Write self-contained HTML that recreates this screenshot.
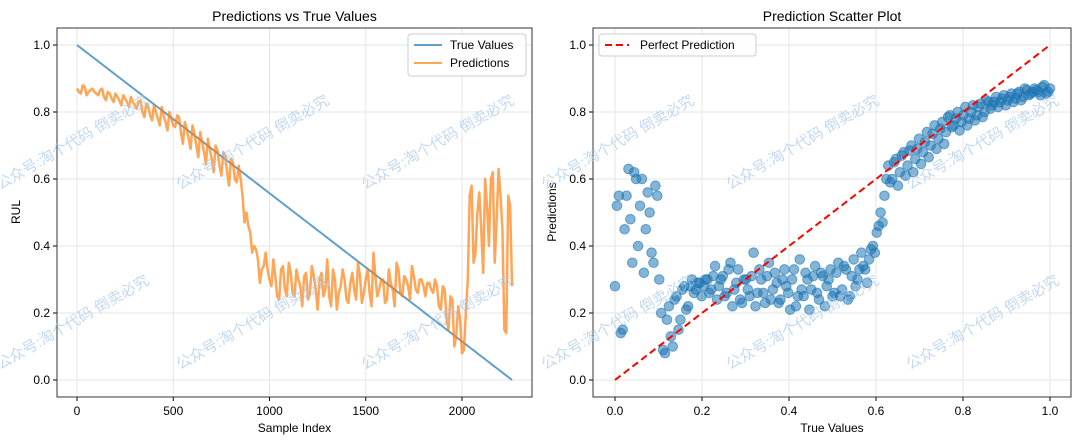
<!DOCTYPE html>
<html><head><meta charset="utf-8"><style>
body{margin:0;background:#fff;}
svg{display:block;font-family:"Liberation Sans","DejaVu Sans",sans-serif;}
</style></head><body>
<svg id="c" width="1080" height="444"></svg>
<script>
// readings at sample index 0,20,40,...
const predictionsEven=[.87,.855,.875,.86,.87,.855,
.865,.845,.86,.84,.855,.835,.85,.83,.845,.82,
.83,.80,.825,.79,.82,.78,.815,.77,.80,.76,
.79,.74,.77,.72,.76,.70,.74,.68,.72,.66,
.70,.64,.68,.62,.66,.60,.64,
.55,.50,.44,.40,.36,.33,.38,.30,
.36,.25,.33,.27,.35,
.26,.33,.28,.31,.24,.34,.27,.30,.25,.36,.22,.30,.26,.33,.24,.29,.27,.35,.23,.30,
.26,.38,.25,.30,.23,.33,.27,.35,.26,.31,.28,.34,.27,.30,.28,
.29,.27,.30,.22,.28,.18,.25,.10,.22,.08,
.20,.55,.35,.50,.45,.60,.40,.62,.48,.55,
.15,.55,.28];
// readings at sample index 10,30,50,...
const predictionsOdd=[.86,.88,.85,.865,.86,
.85,.87,.835,.855,.83,.845,.82,.84,.815,.83,
.81,.835,.785,.815,.775,.80,.76,.79,.745,.78,
.755,.785,.705,.75,.69,.735,.665,.71,.645,.69,
.62,.685,.61,.67,.58,.65,.59,
.60,.47,.46,.38,.39,.29,.34,.33,
.28,.31,.24,.34,.25,
.32,.25,.30,.22,.32,.26,.31,.21,.32,.27,.25,.33,.21,.28,.30,.23,.32,.24,.31,.26,
.33,.22,.31,.27,.30,.24,.29,.22,.33,.25,.30,.24,.31,.26,.30,
.25,.29,.26,.28,.21,.27,.15,.24,.13,.18,
.09,.30,.58,.38,.56,.32,.52,.60,.35,.63,
.45,.14,.52];
const sampleStep=10;
const maxIndex=2260;
const leftXTicks=[0,500,1000,1500,2000];
const yTicks=[0.0,0.2,0.4,0.6,0.8,1.0];
const rightXTicks=[0.0,0.2,0.4,0.6,0.8,1.0];

const predictions=[];
predictionsEven.forEach((v,i)=>{predictions.push(v);if(i<predictionsOdd.length)predictions.push(predictionsOdd[i]);});
const idx=predictions.map((_,i)=>i*sampleStep);
const truth=idx.map(i=>1-i/maxIndex);

const NS="http://www.w3.org/2000/svg";
const svg=document.getElementById('c');
function el(t,a,p){const e=document.createElementNS(NS,t);for(const k in a)e.setAttribute(k,a[k]);(p||svg).appendChild(e);return e;}
const yS=v=>380-335*v;
const lx=v=>77+v*0.1925;
const rx=v=>615+v*435;

function axes(x0,x1,xt,xs,xfmt,title,xl,yl,pre){
  const g=el('g',{});
  
  
  xt.forEach(t=>{el('line',{x1:xs(t),x2:xs(t),y1:28,y2:397,stroke:'#e6e6e6','stroke-width':1},g);
    el('line',{x1:xs(t),x2:xs(t),y1:397,y2:401,stroke:'#000'},g);
    const tx=el('text',{x:xs(t),y:415,'font-size':12,'text-anchor':'middle'},g);tx.textContent=xfmt(t);
    });
  yTicks.forEach(t=>{el('line',{x1:x0,x2:x1,y1:yS(t),y2:yS(t),stroke:'#e6e6e6'},g);
    el('line',{x1:x0-4,x2:x0,y1:yS(t),y2:yS(t),stroke:'#000'},g);
    const tx=el('text',{x:x0-7,y:yS(t)+4,'font-size':12,'text-anchor':'end'},g);tx.textContent=t.toFixed(1);
    });
  const tt=el('text',{x:(x0+x1)/2,y:21,'font-size':14,'text-anchor':'middle'},g);tt.textContent=title;
  
  const xa=el('text',{x:(x0+x1)/2,y:432,'font-size':12,'text-anchor':'middle'},g);xa.textContent=xl;
  
  const ya=el('text',{x:0,y:0,'font-size':12,'text-anchor':'middle',transform:`translate(${x0-37},212) rotate(-90)`},g);ya.textContent=yl;
  
  return g;
}
axes(57,532,leftXTicks,lx,v=>String(v),'Predictions vs True Values','Sample Index','RUL','left');
axes(593,1071,rightXTicks,rx,v=>v.toFixed(1),'Prediction Scatter Plot','True Values','Predictions','right');

const tl=el('polyline',{points:idx.map((i,k)=>lx(i)+','+yS(truth[k])).join(' '),fill:'none',stroke:'#1f77b4','stroke-opacity':0.7,'stroke-width':2});

const pl=el('polyline',{points:idx.map((i,k)=>lx(i)+','+yS(predictions[k])).join(' '),fill:'none',stroke:'#ff7f0e','stroke-opacity':0.7,'stroke-width':2.5,'stroke-linejoin':'round'});


predictions.forEach((p,k)=>{const c=el('circle',{cx:rx(truth[k]),cy:yS(p),r:4.8,fill:'#1f77b4','fill-opacity':0.55,stroke:'#1f77b4','stroke-opacity':0.6});
  });
const dl=el('line',{x1:rx(0),y1:yS(0),x2:rx(1),y2:yS(1),stroke:'#ff0000','stroke-width':2,'stroke-dasharray':'7,4'});


[[57,532],[593,1071]].forEach(([a,b])=>{const f=el('rect',{x:a,y:28,width:b-a,height:369,fill:'none',stroke:'#333','stroke-width':1});
  });

const lg=el('g',{});
el('rect',{x:408,y:34,width:118,height:42,rx:3,fill:'#fff','fill-opacity':0.85,stroke:'#ccc'},lg);
el('line',{x1:414,x2:442,y1:45,y2:45,stroke:'#1f77b4','stroke-opacity':0.7,'stroke-width':2},lg);
let t=el('text',{x:450,y:49,'font-size':12},lg);t.textContent='True Values';
el('line',{x1:414,x2:442,y1:63,y2:63,stroke:'#ff7f0e','stroke-opacity':0.7,'stroke-width':2},lg);
t=el('text',{x:450,y:67,'font-size':12},lg);t.textContent='Predictions';
const rg=el('g',{});
el('rect',{x:599,y:34,width:157,height:22,rx:3,fill:'#fff','fill-opacity':0.85,stroke:'#ccc'},rg);
el('line',{x1:605,x2:629,y1:45,y2:45,stroke:'#ff0000','stroke-width':2,'stroke-dasharray':'7,4'},rg);
t=el('text',{x:640,y:49,'font-size':12},rg);t.textContent='Perfect Prediction';

const wm=[[0,190],[180,190],[365,190],[545,190],[730,190],[0,370],[180,370],[365,370],[545,370],[730,370],[910,190],[910,370]];
wm.forEach(([x,y])=>{const w=el('text',{x:0,y:0,'font-size':15,fill:'#a8c8ea','fill-opacity':0.7,transform:`translate(${x},${y}) rotate(-30)`,'font-family':'"Liberation Sans","Noto Sans CJK SC",sans-serif'});
  w.textContent='公众号:淘个代码  倒卖必究';});
</script>
</body></html>
